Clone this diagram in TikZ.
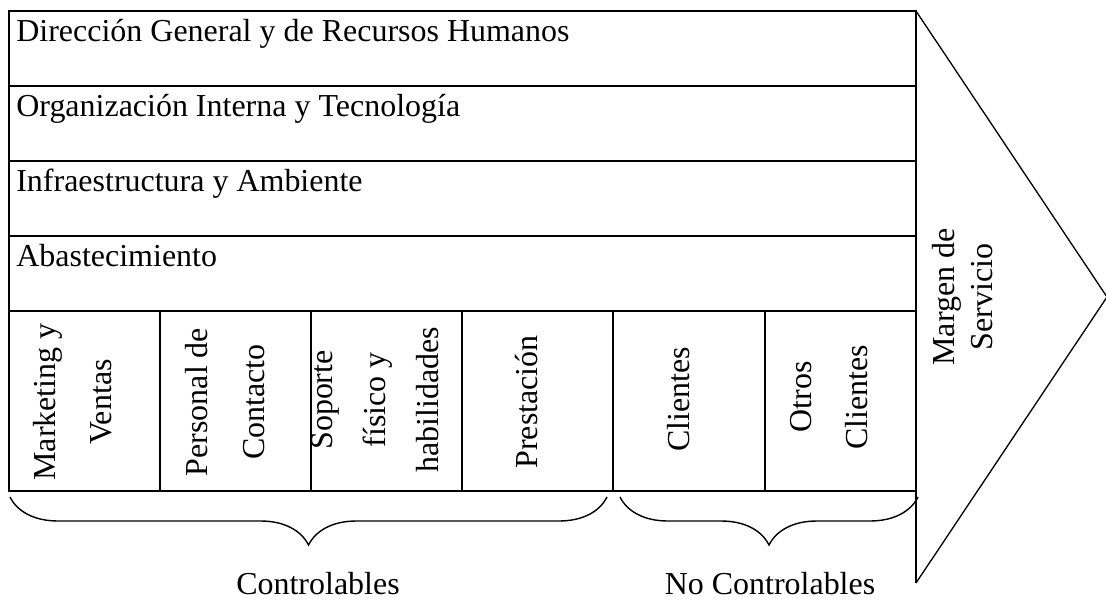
\documentclass[tikz,border=0pt]{standalone}
\usepackage{fontspec}
\setmainfont{Liberation Serif}
\usetikzlibrary{decorations.pathreplacing}

\begin{document}
\begin{tikzpicture}[x=0.02cm,y=-0.02cm,
        fila/.style={anchor=base west,inner sep=0pt,font=\fontsize{18.2}{22}\selectfont},
        columna/.style={rotate=90,align=center,inner sep=0pt,font=\fontsize{18.2}{32}\selectfont},
        rotulo/.style={anchor=base,inner sep=0pt,font=\fontsize{18.2}{22}\selectfont},
        llave/.style={decorate,decoration={brace,mirror,amplitude=0.96cm},line width=0.8pt}]
            \useasboundingbox (0,0) rectangle (1106,599);
            % esquinas
            \coordinate (so) at (9,11);
            \coordinate (se) at (916,11);
            \coordinate (ie) at (916,491);
            \coordinate (io) at (9,491);
            \coordinate (punta) at (1107,297);
            \coordinate (base) at (916,583);
            % filas de apoyo
            \node[fila] (dir) at (16,41) {Dirección General y de Recursos Humanos};
            \node[fila] (org) at (16,116) {Organización Interna y Tecnología};
            \node[fila] (inf) at (16,191) {Infraestructura y Ambiente};
            \node[fila] (aba) at (16,266) {Abastecimiento};
            % columnas
            \node[columna] (mkt) at (73,402) {Marketing y\\Ventas};
            \node[columna] (per) at (225,402) {Personal de\\Contacto};
            \node[columna,font=\fontsize{18.2}{30}\selectfont] (sop) at (375,400) {Soporte\\físico y\\habilidades};
            \node[columna] (pre) at (527,402) {Prestación};
            \node[columna] (cli) at (679,399) {Clientes};
            \node[columna] (otr) at (829,397) {Otros\\Clientes};
            \node[columna,font=\fontsize{18.2}{21.6}\selectfont] (mar) at (963,297) {Margen de\\Servicio};
            \node[rotulo] (ctrl) at (318,594) {Controlables};
            \node[rotulo] (noctrl) at (770,594) {No Controlables};
            % tabla
            \draw[line width=1.1pt] (so) rectangle (ie)
            (9,86) -- (916,86)
            (9,161) -- (916,161)
            (9,236) -- (916,236)
            (9,311) -- (916,311)
            (160,311) -- (160,491)
            (311,311) -- (311,491)
            (462,311) -- (462,491)
            (613,311) -- (613,491)
            (765,311) -- (765,491);
            \draw[line width=1.1pt] (ie) -- (base);
            \draw[line width=0.75pt] (se) -- (punta) -- (base);
            % llaves
            \draw[llave] (10,497) -- (607,497);
            \draw[llave] (620,497) -- (918,497);
        \end{tikzpicture}
\end{document}
